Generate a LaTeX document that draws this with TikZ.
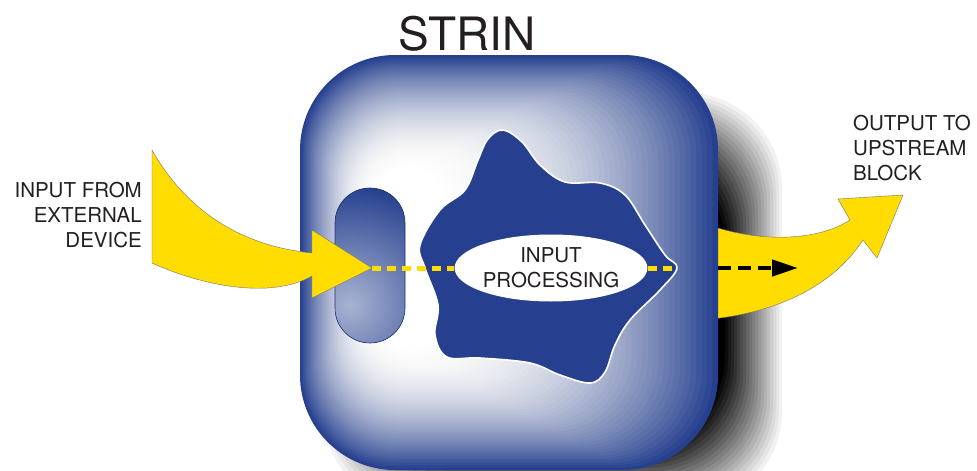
\documentclass[tikz,border=0pt]{standalone}
\usepackage{fontspec}
\setmainfont{TeX Gyre Heros}
\usetikzlibrary{shapes.geometric,arrows.meta}
\definecolor{stblue}{RGB}{38,64,143}
\definecolor{styellow}{RGB}{255,221,0}
\definecolor{sttext}{RGB}{35,31,32}
\tikzset{
	label text/.style={text=sttext, inner sep=0pt, font=\fontsize{20.5}{25}\selectfont},
	yellow arrow/.style={fill=styellow, draw=black!55, line width=0.4pt},
	flow dash/.style={styellow, line width=5pt, dash pattern=on 9pt off 6pt},
}
\begin{document}
\begin{tikzpicture}[x=1pt,y=-1pt]
		\useasboundingbox (0,0) rectangle (977,471);
		\clip (0,0) rectangle (977,471);
		% shadow of the block
		\foreach \k in {1,...,20}{
			\pgfmathsetmacro\op{1/(21-\k)}
			\fill[black, fill opacity=\op, rounded corners=95pt] (320+3*\k,90+3*\k) rectangle (785-3*\k,510-3*\k);
		}
		% output arrow, behind the block
		\path[yellow arrow] (700,222) .. controls (760,245) and (820,240) .. (850,220) -- (838,199) -- (903,195) -- (877,258) -- (863,240) .. controls (830,290) and (770,315) .. (700,320) -- cycle;
		% block
		\fill[stblue, rounded corners=95pt] (300,55) rectangle (718,470);
		\foreach \k in {1,...,50}{
			\pgfmathsetmacro\op{1-((50-\k)/(51-\k))^2}
			\pgfmathsetmacro\r{max(95-1.0*\k,40)}
			\fill[white, fill opacity=\op, rounded corners=\r pt] (300+1.4*\k,55+2.2*\k) rectangle (718-5.4*\k,470-2.4*\k);
		}
		% input port
		\begin{scope}
			\clip[rounded corners=35pt] (335,188) rectangle (405,343);
			\fill[stblue] (335,188) rectangle (405,343);
			\shade[inner color=white!60!stblue, outer color=stblue] (350,305) circle (120);
		\end{scope}
		\draw[stblue!80!black, line width=0.6pt, rounded corners=35pt] (335,188) rectangle (405,343);
		% processing blob
		\draw[white, line width=1.6pt, fill=stblue] plot[smooth cycle, tension=0.6] coordinates {(503,130) (522,142) (540,165) (565,182) (600,183) (625,195) (645,225) (665,255) (677,268) (660,290) (630,320) (615,345) (605,372) (590,383) (560,375) (530,363) (480,358) (447,357) (435,335) (438,305) (425,268) (420,245) (440,210) (465,190) (478,160) (488,139)};
		\node[ellipse, fill=white, minimum width=183pt, minimum height=67pt, label text, align=center] (proc) at (551,268) {INPUT\\PROCESSING};
		\coordinate (intip) at (372,268);
		\coordinate (blobR) at (677,268);
		\coordinate (boxR) at (718,268);
		\coordinate (outtip) at (798,268);
		% input arrow
		\path[yellow arrow] (152,150) .. controls (180,200) and (230,245) .. (312,253) -- (312,230) -- (intip) -- (312,298) -- (312,276) .. controls (270,300) and (200,285) .. (152,263) -- cycle;
		\draw[flow dash] (intip) -- (proc.west);
		\draw[flow dash] (proc.east) -- (blobR);
		\draw[black, line width=4.5pt, dash pattern=on 13pt off 7pt, -{Triangle[length=26pt,width=16pt]}] (boxR) -- (outtip);
		% texts
		\node[text=sttext, inner sep=0pt, anchor=base, font=\fontsize{46}{50}\selectfont] (title) at (467,50) {STRIN};
		\node[label text, align=right, anchor=east] (inlabel) at (142,215) {INPUT FROM\\EXTERNAL\\DEVICE};
		\node[label text, align=left, anchor=west] (outlabel) at (853,148) {OUTPUT TO\\UPSTREAM\\BLOCK};
	\end{tikzpicture}
\end{document}
